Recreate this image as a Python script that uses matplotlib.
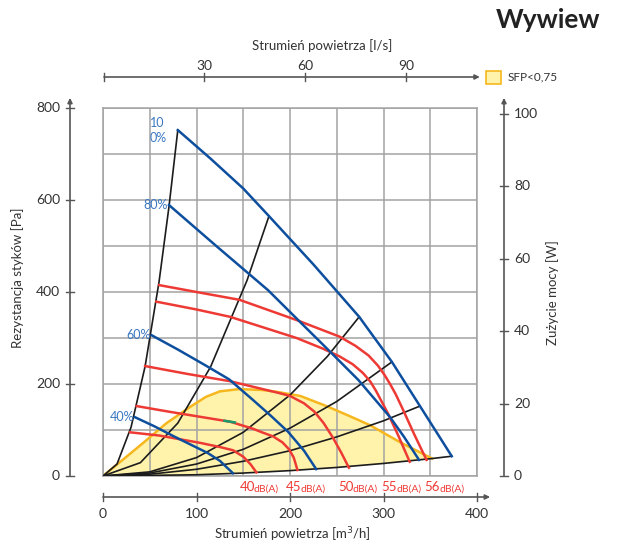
import numpy as np
import matplotlib.pyplot as plt
from matplotlib.transforms import blended_transform_factory

plt.rcParams['font.family'] = ['Lato', 'DejaVu Sans']

# --- data: flow [m3/h], pressure [Pa] ---
# system curves (black)
sys_a_x = [0, 15, 30, 45, 60, 70.6, 80]
sys_a_y = [0, 26, 106, 238, 423, 586, 752]
sys_b_x = [0, 40, 80, 115, 154, 177.5]
sys_b_y = [0, 29, 115, 237, 425, 565]
sys_c_x = [0, 50, 100, 150, 200, 240, 274]
sys_c_y = [0, 9, 40, 95, 176, 260, 346]
sys_d_x = [0, 50, 100, 150, 200, 250, 309]
sys_d_y = [0, 6.5, 26, 58, 104, 162, 248]
sys_e_x = [0, 50, 100, 150, 200, 250, 300, 339]
sys_e_y = [0, 3.9, 14.6, 32, 55, 85, 120, 152]
sys_f_x = [0, 100, 150, 200, 250, 300, 352, 373]
sys_f_y = [0, 2.7, 6.4, 11.7, 18.6, 27.3, 38, 43]

# fan curves (blue)
fan_100_x = [80, 115, 150, 177.5, 225, 274, 309, 339, 373]
fan_100_y = [752, 690, 625, 565, 460, 346, 248, 152, 43]
fan_80_x = [70.6, 120, 176.5, 210.7, 243, 273, 307, 322, 338]
fan_80_y = [589, 502, 404, 335, 270, 209, 128, 85, 35]
fan_60_x = [52, 80, 110, 135, 160, 180, 198, 215, 228]
fan_60_y = [306, 275, 240, 210, 166, 130, 96, 55, 15]
fan_40_x = [34, 55, 75, 95, 112, 125, 139]
fan_40_y = [128, 108, 87, 67, 50, 33, 6]
fan_labels = ['10\n0%', '80%', '60%', '40%']

# noise curves (red)
noise_56_x = [60, 100, 146, 207, 253, 270, 284, 294, 301, 307, 313, 320, 333, 346]
noise_56_y = [415, 400, 383, 339, 303, 283, 262, 240, 220, 200, 178, 148, 90, 35]
noise_55_x = [57, 100, 136, 207, 235, 253, 267, 278, 286, 292, 298, 305, 316, 328]
noise_55_y = [379, 362, 346, 300, 277, 260, 243, 224, 205, 185, 162, 135, 87, 31]
noise_50_x = [45, 90, 136, 189, 200, 215, 226, 236, 246, 255, 263]
noise_50_y = [239, 222, 206, 180, 174, 158, 140, 115, 83, 50, 18]
noise_45_x = [36, 70, 100, 136, 160, 170, 182, 192, 199, 204, 208]
noise_45_y = [152, 140, 130, 118, 103, 95, 86, 73, 58, 40, 13]
noise_40_x = [29, 60, 104, 125, 139, 150, 158, 164]
noise_40_y = [95, 88, 72, 63, 56, 42, 25, 8]
db_values = ['40', '45', '50', '55', '56']
db_label_x = [146, 196, 252, 298, 344]

# SFP < 0,75 area (upper edge, lower edge is sys_f)
sfp_x = [0, 21, 43, 68, 93, 110, 125, 146, 170, 186, 211, 239, 264, 286, 319, 352]
sfp_y = [0, 35, 72, 115, 150, 172, 184, 189, 187, 183, 174, 152, 130, 110, 72, 38]

x_ticks = [0, 100, 200, 300, 400]
y_ticks = [0, 200, 400, 600, 800]
w_ticks = [0, 20, 40, 60, 80, 100]
ls_ticks = [30, 60, 90]

W, H = 617, 544
blue = '#0d4f9e'
red = '#ee3a35'
black = '#1c1c1c'
gridc = '#a3a3a3'
axc = '#555555'
txt = '#333333'

fig = plt.figure(figsize=(W / 100, H / 100), dpi=100)
ax = fig.add_axes([103 / W, 1 - 476 / H, 374 / W, 368 / H])
ax.set_xlim(0, 400)
ax.set_ylim(0, 800)
ax.set_xticks(np.arange(0, 401, 50))
ax.set_yticks(np.arange(0, 801, 100))
ax.tick_params(length=0, labelbottom=False, labelleft=False)
ax.set_axisbelow(True)
ax.grid(True, color=gridc, lw=1.1)
for s in ax.spines.values():
    s.set_color(gridc)
    s.set_linewidth(1.1)

# yellow SFP area
fx = list(sfp_x) + list(sys_f_x[::-1])
fy = list(sfp_y) + list(sys_f_y[::-1])
ax.fill(fx, fy, color='#fff3ac', lw=0, zorder=0.3)
ax.plot(sfp_x, sfp_y, color='#f6b71e', lw=1.8, zorder=1)

for xs, ys in [(sys_a_x, sys_a_y), (sys_b_x, sys_b_y), (sys_c_x, sys_c_y),
               (sys_d_x, sys_d_y), (sys_e_x, sys_e_y), (sys_f_x, sys_f_y)]:
    ax.plot(xs, ys, color=black, lw=1.2, zorder=3)

for xs, ys in [(noise_56_x, noise_56_y), (noise_55_x, noise_55_y), (noise_50_x, noise_50_y),
               (noise_45_x, noise_45_y), (noise_40_x, noise_40_y)]:
    ax.plot(xs, ys, color=red, lw=1.8, zorder=4, solid_joinstyle='round')

# small green mark on the 45 dB curve
ax.plot([130, 141], [120, 116.5], color='#1a9a6a', lw=1.8, zorder=5)

fans = [(fan_100_x, fan_100_y), (fan_80_x, fan_80_y), (fan_60_x, fan_60_y), (fan_40_x, fan_40_y)]
for xs, ys in fans:
    ax.plot(xs, ys, color=blue, lw=1.8, zorder=4, solid_joinstyle='round')

# speed labels
ax.text(50, 752, fan_labels[0], color='#3b78c2', fontsize=9, ha='left', va='center', linespacing=1.3)
for (xs, ys), lab in zip(fans[1:], fan_labels[1:]):
    ax.text(xs[0] - 1, ys[0], lab, color='#3b78c2', fontsize=9, ha='right', va='center')

# dB labels under the plot
for v, x in zip(db_values, db_label_x):
    num = ax.annotate(v, xy=(x, 0), xycoords='data', xytext=(0, -11), textcoords='offset points',
                      color=red, fontsize=9.5, ha='left', va='baseline', annotation_clip=False)
    ax.annotate('dB(A)', xy=(1, 0), xycoords=(num, 'data'), xytext=(-0.8, -11),
                textcoords='offset points', color=red, fontsize=7.5, ha='left', va='baseline',
                annotation_clip=False)

arrow = dict(arrowstyle='-|>', color=axc, lw=1.2, mutation_scale=7, shrinkA=0, shrinkB=0)

# left axis
tr_l = blended_transform_factory(fig.transFigure, ax.transData)
xl = 70 / W
ax.annotate('', xy=(xl, 822), xycoords=tr_l, xytext=(xl, 0), textcoords=tr_l, arrowprops=arrow)
for v in y_ticks:
    ax.plot([xl - 4 / W, xl + 4 / W], [v, v], transform=tr_l, color=axc, lw=1, clip_on=False)
    ax.text(xl - 10 / W, v, str(v), transform=tr_l, ha='right', va='center', fontsize=10, color=txt)
fig.text(18 / W, 1 - 278 / H, 'Rezystancja styków [Pa]', rotation=90, ha='center', va='center',
         fontsize=9.5, color=txt)

# right axis (power)
xr = 504 / W
ax.annotate('', xy=(xr, 822), xycoords=tr_l, xytext=(xr, 0), textcoords=tr_l, arrowprops=arrow)
for v in w_ticks:
    ax.plot([xr - 4 / W, xr + 4 / W], [v * 7.87, v * 7.87], transform=tr_l, color=axc, lw=1, clip_on=False)
    ax.text(xr + 10 / W, v * 7.87, str(v), transform=tr_l, ha='left', va='center', fontsize=10, color=txt)
fig.text(553 / W, 1 - 293 / H, 'Zużycie mocy [W]', rotation=90, ha='center', va='center',
         fontsize=9.5, color=txt)

# bottom axis (m3/h)
tr_b = blended_transform_factory(ax.transData, fig.transFigure)
yb = 1 - 497 / H
ax.annotate('', xy=(414, yb), xycoords=tr_b, xytext=(0, yb), textcoords=tr_b, arrowprops=arrow)
for v in x_ticks:
    ax.plot([v, v], [yb - 4 / H, yb + 4 / H], transform=tr_b, color=axc, lw=1, clip_on=False)
    ax.text(v, yb - 17 / H, str(v), transform=tr_b, ha='center', va='center', fontsize=10, color=txt)
fig.text(292 / W, 1 - 535 / H, 'Strumień powietrza [m$^3$/h]', ha='center', va='center',
         fontsize=9.5, color=txt)

# top axis (l/s), same flow scale as the bottom one: 1 l/s = 3.6 m3/h
yt = 1 - 77 / H
ax.annotate('', xy=(403, yt), xycoords=tr_b, xytext=(1, yt), textcoords=tr_b, arrowprops=arrow)
ax.plot([1, 1], [yt - 4 / H, yt + 4 / H], transform=tr_b, color=axc, lw=1, clip_on=False)
for v in ls_ticks:
    ax.plot([v * 3.6, v * 3.6], [yt - 4 / H, yt + 4 / H], transform=tr_b, color=axc, lw=1, clip_on=False)
    ax.text(v * 3.6, yt + 11 / H, str(v), transform=tr_b, ha='center', va='center', fontsize=10, color=txt)
fig.text(322 / W, 1 - 46 / H, 'Strumień powietrza [l/s]', ha='center', va='center',
         fontsize=9.5, color=txt)

# legend
fig.add_artist(plt.Rectangle((486 / W, 1 - 84 / H), 15 / W, 13 / H, facecolor='#fff3ac',
                             edgecolor='#f6b71e', lw=1.2))
fig.text(508 / W, 1 - 77 / H, 'SFP<0,75', ha='left', va='center', fontsize=8.5, color=txt)

fig.text(600 / W, 1 - 20 / H, 'Wywiew', ha='right', va='center', fontsize=19,
         fontweight='bold', color='#222222')

fig.savefig('out.png', dpi=100)
